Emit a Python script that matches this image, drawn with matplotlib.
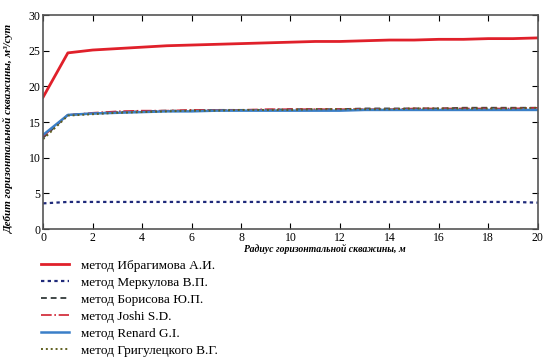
import matplotlib.pyplot as plt
import numpy as np

r = np.arange(0, 21)
ibragimov = [18.5, 24.7, 25.1, 25.3, 25.5, 25.7, 25.8, 25.9, 26.0, 26.1, 26.2,
             26.3, 26.3, 26.4, 26.5, 26.5, 26.6, 26.6, 26.7, 26.7, 26.8]
merkulov = [3.6, 3.8, 3.8, 3.8, 3.8, 3.8, 3.8, 3.8, 3.8, 3.8, 3.8,
            3.8, 3.8, 3.8, 3.8, 3.8, 3.8, 3.8, 3.8, 3.8, 3.7]
borisov = [12.8, 16.0, 16.2, 16.4, 16.5, 16.6, 16.6, 16.7, 16.7, 16.7, 16.8,
           16.8, 16.8, 16.9, 16.9, 16.9, 16.9, 17.0, 17.0, 17.0, 17.0]
joshi = [13.0, 16.0, 16.3, 16.5, 16.6, 16.6, 16.7, 16.7, 16.7, 16.8, 16.8,
         16.8, 16.8, 16.8, 16.8, 16.9, 16.9, 16.9, 16.9, 16.9, 17.0]
renard = [13.2, 16.0, 16.2, 16.3, 16.4, 16.5, 16.5, 16.6, 16.6, 16.6, 16.6,
          16.6, 16.6, 16.7, 16.7, 16.7, 16.7, 16.7, 16.7, 16.7, 16.7]
grigulecky = [12.6, 15.9, 16.1, 16.3, 16.4, 16.5, 16.6, 16.6, 16.7, 16.7, 16.7,
              16.8, 16.8, 16.8, 16.8, 16.9, 16.9, 16.9, 16.9, 16.9, 17.0]

labels = ["метод Ибрагимова А.И.", "метод Меркулова В.П.", "метод Борисова Ю.П.",
          "метод Joshi S.D.", "метод Renard G.I.", "метод Григулецкого В.Г."]

plt.rcParams['font.family'] = ['Liberation Serif', 'DejaVu Serif']

fig = plt.figure(figsize=(5.46, 3.59), dpi=100)
ax = fig.add_axes([0.079, 0.362, 0.906, 0.596])

ax.plot(r, ibragimov, color='#e0202a', lw=2.0, label=labels[0])
ax.plot(r, merkulov, color='#1f2a7a', lw=1.6, ls=(0, (1.5, 1.5)), label=labels[1])
ax.plot(r, borisov, color='#404848', lw=1.4, ls=(0, (3, 2)), label=labels[2])
ax.plot(r, joshi, color='#d02030', lw=1.2, ls='-.', label=labels[3])
ax.plot(r, renard, color='#3a7fc8', lw=1.8, label=labels[4])
ax.plot(r, grigulecky, color='#606020', lw=1.4, ls=(0, (1, 1.5)), label=labels[5])

ax.set_xlim(0, 20)
ax.set_ylim(0, 30)
ax.set_xticks(np.arange(0, 21, 2))
ax.set_yticks(np.arange(0, 31, 5))
ax.tick_params(direction='in', top=True, right=True, labelsize=8.5, length=4, pad=2)
for s in ax.spines.values():
    s.set_color('#555555')
    s.set_linewidth(1.2)

ax.set_xlabel("Радиус горизонтальной скважины, м", fontsize=7, fontweight='bold',
              style='italic')
ax.xaxis.set_label_coords(0.57, -0.07)
ax.set_ylabel("Дебит горизонтальной скважины, м³/сут", fontsize=8, fontweight='bold',
              style='italic')
ax.yaxis.set_label_coords(-0.06, 0.47)

fig.legend(loc='upper left', bbox_to_anchor=(0.075, 0.277), frameon=False,
           fontsize=9.5, handlelength=2.1, handletextpad=0.9, labelspacing=0.36,
           borderpad=0, borderaxespad=0)

fig.savefig('out.png', dpi=100)
